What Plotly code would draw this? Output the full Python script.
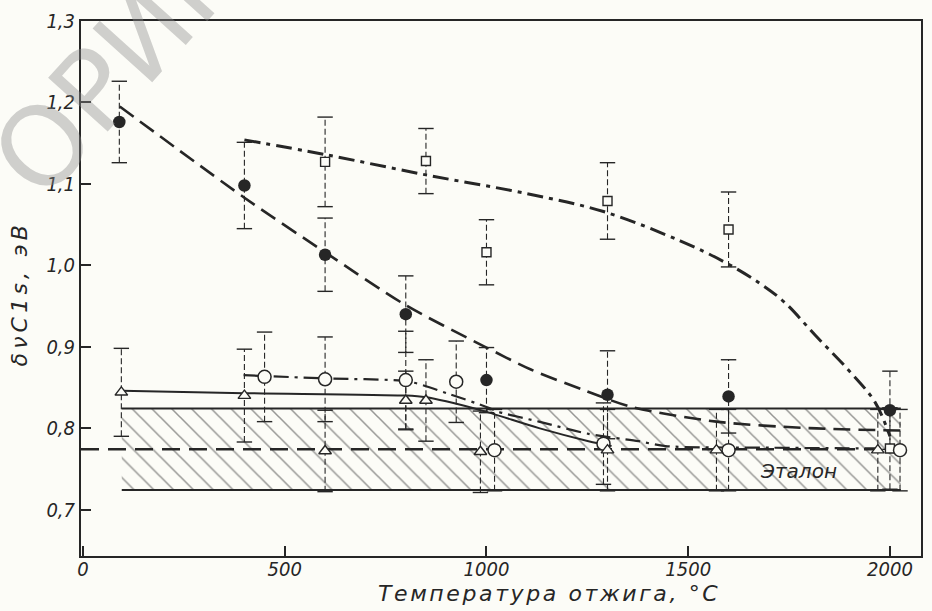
import plotly.graph_objects as go

# ---------------- data ----------------
# filled circles and their fitted dashed curve
filled_x = [90, 400, 600, 800, 1000, 1300, 1600, 2000]
filled_y = [1.176, 1.098, 1.013, 0.940, 0.859, 0.841, 0.839, 0.822]
filled_err = [0.050, 0.053, 0.045, 0.047, 0.040, 0.054, 0.045, 0.048]
filled_fit_x = [91, 400, 600, 800, 1000, 1110, 1240, 1360, 1570, 1800, 2035]
filled_fit_y = [1.195, 1.083, 1.016, 0.951, 0.899, 0.872, 0.847, 0.826, 0.808, 0.800, 0.797]

# open squares and their dash-dot curve
square_x = [600, 850, 1000, 1300, 1600, 2000]
square_y = [1.127, 1.128, 1.016, 1.079, 1.044, 0.775]
square_err = [0.055, 0.040, 0.040, 0.047, 0.046, 0.050]
square_fit_x = [400, 600, 850, 1100, 1290, 1480, 1590, 1680, 1740, 1815, 1896, 1963, 2000]
square_fit_y = [1.154, 1.136, 1.111, 1.088, 1.066, 1.030, 1.004, 0.977, 0.954, 0.914, 0.872, 0.832, 0.790]

# open circles and their dash-dot curve
ocirc_x = [450, 600, 800, 925, 1020, 1290, 1600, 2025]
ocirc_y = [0.863, 0.860, 0.859, 0.857, 0.773, 0.781, 0.773, 0.773]
ocirc_err = [0.055, 0.052, 0.060, 0.050, 0.050, 0.050, 0.050, 0.050]
ocirc_fit_x = [398, 603, 808, 907, 1000, 1030, 1130, 1253, 1377, 1444, 1700, 2025]
ocirc_fit_y = [0.865, 0.861, 0.857, 0.842, 0.826, 0.820, 0.808, 0.793, 0.784, 0.778, 0.776, 0.775]

# open triangles and their solid curve
tri_x = [95, 400, 600, 800, 850, 985, 1300, 1570, 1970]
tri_y = [0.844, 0.840, 0.772, 0.834, 0.834, 0.771, 0.773, 0.773, 0.773]
tri_err = [0.054, 0.057, 0.050, 0.036, 0.050, 0.050, 0.050, 0.050, 0.050]
tri_fit_x = [96, 400, 800, 850, 900, 1000, 1130, 1253, 1310]
tri_fit_y = [0.846, 0.843, 0.840, 0.838, 0.833, 0.820, 0.800, 0.784, 0.778]

# reference ("Эталон") band
etalon_value = 0.774
etalon_low = 0.724
etalon_high = 0.824
band_x = [96, 2027]
etalon_line_x = [-5, 1970]

x_tick_vals = [0, 500, 1000, 1500, 2000]
x_tick_text = ["0", "500", "1000", "1500", "2000"]
y_tick_vals = [0.7, 0.8, 0.9, 1.0, 1.1, 1.2, 1.3]
y_tick_text = ["0,7", "0,8", "0,9", "1,0", "1,1", "1,2", "1,3"]

x_title = "Температура отжига, °C"
y_title = "δνC1s, эВ"
band_label = "Эталон"
watermark = "ОРИГИНАЛ"

# ---------------- style ----------------
PAPER = "#fcfcf7"
INK = "#262626"
NARROW = "Liberation Sans Narrow, DejaVu Sans Condensed, Arial Narrow, sans-serif"
WIDE = "DejaVu Sans, Verdana, sans-serif"

fig = go.Figure()

# hatched band
fig.add_trace(go.Scatter(
    x=[band_x[0], band_x[1], band_x[1], band_x[0], band_x[0]],
    y=[etalon_low, etalon_low, etalon_high, etalon_high, etalon_low],
    mode="lines", fill="toself", line=dict(width=0, color="rgba(0,0,0,0)"),
    fillcolor="rgba(0,0,0,0)",
    fillpattern=dict(shape="\\", size=14, solidity=0.11, fgcolor="#333", bgcolor="rgba(0,0,0,0)"),
    hoverinfo="skip"))
for yv in (etalon_low, etalon_high):
    fig.add_trace(go.Scatter(x=band_x, y=[yv, yv], mode="lines",
                             line=dict(color=INK, width=2), hoverinfo="skip"))
fig.add_trace(go.Scatter(x=etalon_line_x, y=[etalon_value, etalon_value], mode="lines",
                         line=dict(color=INK, width=2.5, dash="18px,9px"), hoverinfo="skip"))


def err_bars(xs, ys, es):
    vx, vy, cx, cy = [], [], [], []
    for x, y, e in zip(xs, ys, es):
        vx += [x, x, None]
        vy += [y - e, y + e, None]
        cx += [x, x]
        cy += [y - e, y + e]
    fig.add_trace(go.Scatter(x=vx, y=vy, mode="lines",
                             line=dict(color=INK, width=1.1, dash="6px,3px"), hoverinfo="skip"))
    fig.add_trace(go.Scatter(x=cx, y=cy, mode="markers",
                             marker=dict(symbol="line-ew", size=11, line=dict(color=INK, width=1.4)),
                             hoverinfo="skip"))


for xs, ys, es in ((filled_x, filled_y, filled_err), (square_x, square_y, square_err),
                   (ocirc_x, ocirc_y, ocirc_err), (tri_x, tri_y, tri_err)):
    err_bars(xs, ys, es)

# fitted curves
fig.add_trace(go.Scatter(x=filled_fit_x, y=filled_fit_y, mode="lines",
                         line=dict(color=INK, width=2.6, dash="17px,8px", shape="spline", smoothing=0.8)))
fig.add_trace(go.Scatter(x=square_fit_x, y=square_fit_y, mode="lines",
                         line=dict(color=INK, width=3, dash="16px,6px,4px,6px", shape="spline", smoothing=1.0)))
fig.add_trace(go.Scatter(x=ocirc_fit_x, y=ocirc_fit_y, mode="lines",
                         line=dict(color=INK, width=2.2, dash="15px,6px,3px,6px", shape="spline", smoothing=0.8)))
fig.add_trace(go.Scatter(x=tri_fit_x, y=tri_fit_y, mode="lines",
                         line=dict(color=INK, width=2, shape="spline", smoothing=0.8)))

# markers
fig.add_trace(go.Scatter(x=filled_x, y=filled_y, mode="markers",
                         marker=dict(symbol="circle", size=12.5, color=INK, line=dict(width=0))))
fig.add_trace(go.Scatter(x=square_x, y=square_y, mode="markers",
                         marker=dict(symbol="square", size=9, color=PAPER, line=dict(color=INK, width=1.4))))
fig.add_trace(go.Scatter(x=ocirc_x, y=ocirc_y, mode="markers",
                         marker=dict(symbol="circle", size=13, color=PAPER, line=dict(color=INK, width=1.5))))
fig.add_trace(go.Scatter(x=tri_x, y=tri_y, mode="markers",
                         marker=dict(symbol="triangle-up", size=11, color=PAPER, line=dict(color=INK, width=1.4))))

fig.update_layout(
    width=932, height=611,
    margin=dict(l=81, r=9, t=14, b=55),
    paper_bgcolor=PAPER, plot_bgcolor=PAPER,
    showlegend=False,
    xaxis=dict(range=[-5, 2077], tickvals=x_tick_vals, ticktext=x_tick_text,
               ticks="inside", ticklen=10, tickwidth=1.6, tickcolor=INK,
               showline=True, linecolor=INK, linewidth=2, mirror=True,
               showgrid=False, zeroline=False, ticklabelstandoff=-6,
               tickfont=dict(family=NARROW, size=20, color=INK, style="italic")),
    yaxis=dict(range=[0.643, 1.300], tickvals=y_tick_vals, ticktext=y_tick_text,
               ticks="inside", ticklen=10, tickwidth=1.6, tickcolor=INK,
               showline=True, linecolor=INK, linewidth=2, mirror=True,
               showgrid=False, zeroline=False,
               tickfont=dict(family=NARROW, size=20, color=INK, style="italic")),
)

fig.add_annotation(text='<span style="letter-spacing:2.6px">' + x_title + '</span>',
                   xref="paper", yref="paper", x=0.557, y=-0.071,
                   xanchor="center", yanchor="middle", showarrow=False,
                   font=dict(family=WIDE, size=22, color=INK, style="italic"))
fig.add_annotation(text='<span style="letter-spacing:4.2px">' + y_title + '</span>',
                   xref="paper", yref="paper", x=-0.073, y=0.49,
                   xanchor="center", yanchor="middle", showarrow=False, textangle=-90,
                   font=dict(family=WIDE, size=22, color=INK, style="italic"))
fig.add_annotation(text=band_label, x=1773, y=0.747, xref="x", yref="y",
                   showarrow=False, font=dict(family=WIDE, size=20, color=INK, style="italic"))
fig.add_annotation(text=watermark, xref="paper", yref="paper", x=0.17, y=1.14,
                   xanchor="center", yanchor="middle", showarrow=False, textangle=-48,
                   font=dict(family=WIDE, size=110, color="rgba(140,140,140,0.4)"))

fig.write_html("out.html", config={"displayModeBar": False},
               post_script="document.body.style.margin='0';")
